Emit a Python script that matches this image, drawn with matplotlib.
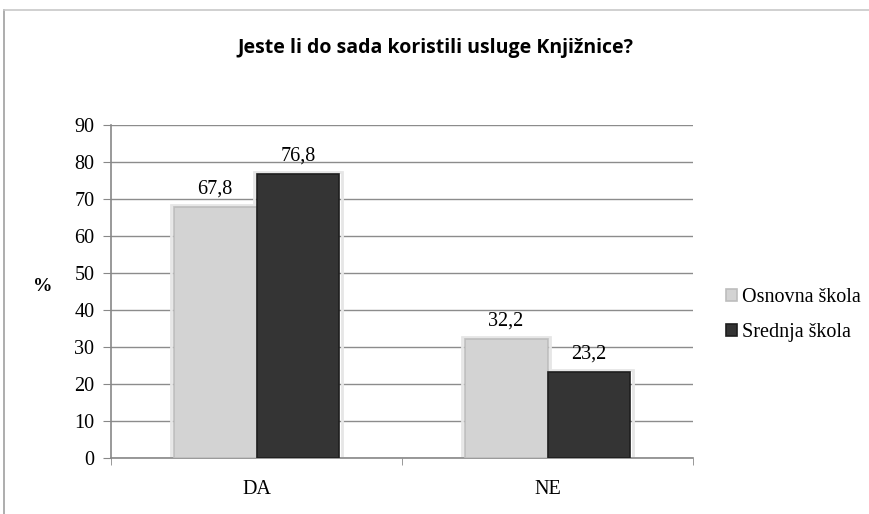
import numpy as np
import matplotlib.pyplot as plt
from matplotlib.patches import Rectangle

categories = ["DA", "NE"]
series_names = ["Osnovna škola", "Srednja škola"]
osnovna = [67.8, 32.2]
srednja = [76.8, 23.2]
y_ticks = [0, 10, 20, 30, 40, 50, 60, 70, 80, 90]

fig = plt.figure(figsize=(8.69, 5.14), dpi=100)

# outer chart frame (only left and top edges visible in the reference)
fig.add_artist(plt.Line2D([4 / 869, 4 / 869], [0, 1 - 10 / 514], color="#a0a0a0", lw=1.2))
fig.add_artist(plt.Line2D([4 / 869, 1], [1 - 10 / 514, 1 - 10 / 514], color="#c8c8c8", lw=1.2))

ax = fig.add_axes([111 / 869, 1 - 458 / 514, (693 - 111) / 869, (458 - 125) / 514])

x = np.arange(len(categories))
w = 0.285
bars1 = ax.bar(x - w / 2, osnovna, w, color="#d3d3d3", edgecolor="#bdbdbd", lw=1.2,
               label=series_names[0], zorder=3)
bars2 = ax.bar(x + w / 2, srednja, w, color="#343434", edgecolor="#1e1e1e", lw=1.2,
               label=series_names[1], zorder=3)

# soft shadow / glow around bars
for b in list(bars1) + list(bars2):
    ax.add_patch(Rectangle((b.get_x() - 0.008, 0), b.get_width() + 0.016, b.get_height() + 0.6,
                           facecolor="none", edgecolor="#e6e6e6", lw=2, zorder=2))

for bars, vals in ((bars1, osnovna), (bars2, srednja)):
    for b, v in zip(bars, vals):
        ax.text(b.get_x() + b.get_width() / 2, v + 2.3, f"{v:.1f}".replace(".", ","),
                ha="center", va="bottom", fontsize=14.5, family="Liberation Serif")

ax.set_xlim(-0.5, 1.5)
ax.set_ylim(0, 90)
ax.set_yticks(y_ticks)
ax.set_yticklabels([str(t) for t in y_ticks], family="Liberation Serif", fontsize=14.5)
ax.set_xticks(x)
ax.set_xticklabels(categories, family="Liberation Serif", fontsize=14.5)
ax.set_xticks([-0.5, 0.5, 1.5], minor=True)
ax.tick_params(axis="x", which="major", length=0, pad=16)
ax.tick_params(axis="x", which="minor", length=5, color="#888888", direction="out")
ax.tick_params(axis="y", length=6, color="#888888", direction="out", pad=6)

ax.yaxis.grid(True, color="#8c8c8c", lw=1, zorder=0)
ax.set_axisbelow(True)
for s in ("top", "right"):
    ax.spines[s].set_visible(False)
for s in ("left", "bottom"):
    ax.spines[s].set_color("#888888")
    ax.spines[s].set_linewidth(1.2)

ax.set_ylabel("%", rotation=0, family="Liberation Serif", fontsize=14, fontweight="bold",
              labelpad=0)
ax.yaxis.set_label_coords(-0.118, 0.49)

fig.text(435 / 869, 1 - 48 / 514, "Jeste li do sada koristili usluge Knjižnice?",
         ha="center", va="center", fontsize=14, fontweight="bold", family="Open Sans")

ax.legend(loc="center left", bbox_to_anchor=(1.025, 0.43), frameon=False,
          prop={"family": "Liberation Serif", "size": 14.5},
          handlelength=0.55, handleheight=0.55, handletextpad=0.25, labelspacing=0.8)

fig.savefig("out.png", dpi=100)
